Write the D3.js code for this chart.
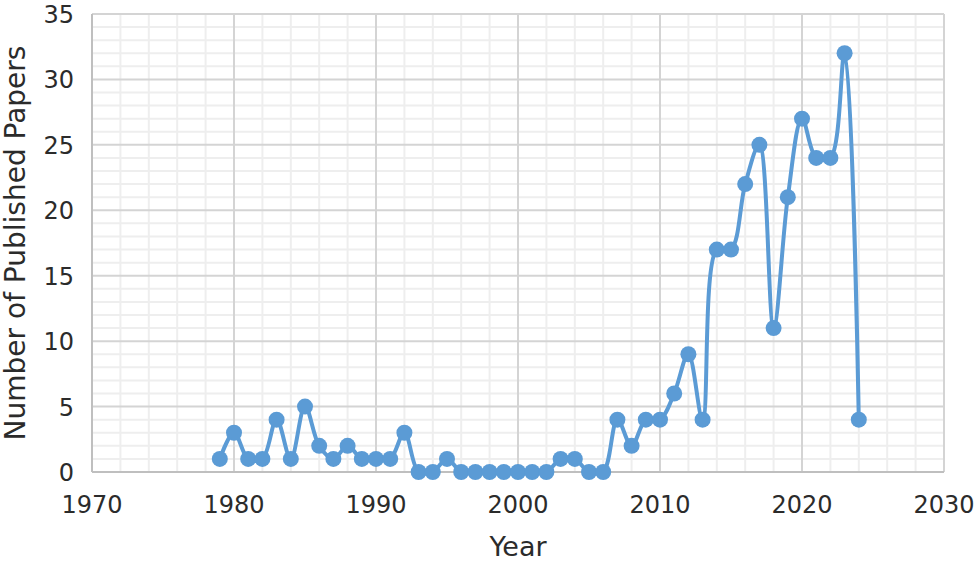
<!DOCTYPE html>
<html>
<head>
<meta charset="utf-8">
<script src="https://cdn.jsdelivr.net/npm/d3@7"></script>
<style>
	body { margin: 0; background: #fff; }
	text { font-family: "DejaVu Sans", sans-serif; fill: #2b2b2b; }
</style>
</head>
<body>
<div id="chart"></div>
<script>
var years = [1979, 1980, 1981, 1982, 1983, 1984, 1985, 1986, 1987, 1988, 1989, 1990, 1991, 1992, 1993, 1994, 1995, 1996, 1997, 1998, 1999, 2000, 2001, 2002, 2003, 2004, 2005, 2006, 2007, 2008, 2009, 2010, 2011, 2012, 2013, 2014, 2015, 2016, 2017, 2018, 2019, 2020, 2021, 2022, 2023, 2024];
var papers = [1, 3, 1, 1, 4, 1, 5, 2, 1, 2, 1, 1, 1, 3, 0, 0, 1, 0, 0, 0, 0, 0, 0, 0, 1, 1, 0, 0, 4, 2, 4, 4, 6, 9, 4, 17, 17, 22, 25, 11, 21, 27, 24, 24, 32, 4];
var xTicks = [1970, 1980, 1990, 2000, 2010, 2020, 2030];
var yTicks = [0, 5, 10, 15, 20, 25, 30, 35];

var W = 980, H = 563;
var m = { left: 92, right: 36, top: 14, bottom: 91 };

var svg = d3.select("#chart").append("svg")
	.attr("width", W)
	.attr("height", H);

var x = d3.scaleLinear().domain([1970, 2030]).range([m.left, W - m.right]);
var y = d3.scaleLinear().domain([0, 35]).range([H - m.bottom, m.top]);

var g = svg.append("g");

// minor grid
g.selectAll(".vminor")
	.data(d3.range(1972, 2030, 2).filter(function(d) { return d % 10 != 0; }))
	.enter().append("line")
	.attr("x1", function(d) { return x(d); })
	.attr("x2", function(d) { return x(d); })
	.attr("y1", y(0)).attr("y2", y(35))
	.attr("stroke", "#eeeeee").attr("stroke-width", 2);

g.selectAll(".hminor")
	.data(d3.range(1, 35).filter(function(d) { return d % 5 != 0; }))
	.enter().append("line")
	.attr("y1", function(d) { return y(d); })
	.attr("y2", function(d) { return y(d); })
	.attr("x1", x(1970)).attr("x2", x(2030))
	.attr("stroke", "#eeeeee").attr("stroke-width", 2);

// major grid
g.selectAll(".vmajor")
	.data(xTicks)
	.enter().append("line")
	.attr("x1", function(d) { return x(d); })
	.attr("x2", function(d) { return x(d); })
	.attr("y1", y(0)).attr("y2", y(35))
	.attr("stroke", "#d4d4d4").attr("stroke-width", 2);

g.selectAll(".hmajor")
	.data(yTicks)
	.enter().append("line")
	.attr("y1", function(d) { return y(d); })
	.attr("y2", function(d) { return y(d); })
	.attr("x1", x(1970)).attr("x2", x(2030))
	.attr("stroke", "#d4d4d4").attr("stroke-width", 2);

// axis lines
g.append("line")
	.attr("x1", x(1970)).attr("x2", x(2030))
	.attr("y1", y(0)).attr("y2", y(0))
	.attr("stroke", "#bfbfbf").attr("stroke-width", 2);
g.append("line")
	.attr("x1", x(1970)).attr("x2", x(1970))
	.attr("y1", y(0)).attr("y2", y(35))
	.attr("stroke", "#bfbfbf").attr("stroke-width", 2);

// tick labels
g.selectAll(".xlab")
	.data(xTicks)
	.enter().append("text")
	.attr("x", function(d) { return x(d); })
	.attr("y", y(0) + 41)
	.attr("text-anchor", "middle")
	.style("font-size", "24px")
	.text(function(d) { return d; });

g.selectAll(".ylab")
	.data(yTicks)
	.enter().append("text")
	.attr("x", m.left - 18)
	.attr("y", function(d) { return y(d) + 9; })
	.attr("text-anchor", "end")
	.style("font-size", "24px")
	.text(function(d) { return d; });

// axis titles
svg.append("text")
	.attr("x", (x(1970) + x(2030)) / 2)
	.attr("y", 556)
	.attr("text-anchor", "middle")
	.style("font-size", "27px")
	.text("Year");

svg.append("text")
	.attr("transform", "translate(25," + 243 + ") rotate(-90)")
	.attr("text-anchor", "middle")
	.style("font-size", "28px")
	.text("Number of Published Papers");

// series
var pts = years.map(function(d, i) { return [d, papers[i]]; });

var line = d3.line()
	.x(function(d) { return x(d[0]); })
	.y(function(d) { return y(d[1]); })
	.curve(d3.curveCatmullRom.alpha(0.5));

g.append("path")
	.datum(pts)
	.attr("d", line)
	.attr("fill", "none")
	.attr("stroke", "#5b9bd5")
	.attr("stroke-width", 4);

g.selectAll(".pt")
	.data(pts)
	.enter().append("circle")
	.attr("cx", function(d) { return x(d[0]); })
	.attr("cy", function(d) { return y(d[1]); })
	.attr("r", 8)
	.attr("fill", "#5b9bd5");
</script>
</body>
</html>
